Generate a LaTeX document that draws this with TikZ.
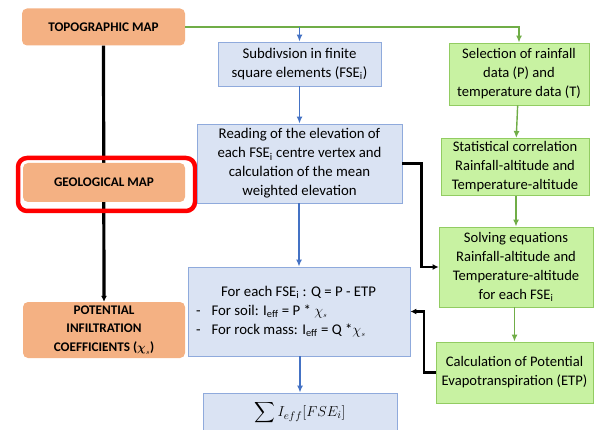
\documentclass[tikz,border=0pt]{standalone}
\usepackage{amsmath}
\usepackage{fontspec}
\setmainfont{Carlito}
\usetikzlibrary{%
		arrows.meta%
		,positioning%
	}
\definecolor{mapfill}{HTML}{F4B183}
\definecolor{stepfill}{HTML}{DAE3F3}
\definecolor{stepdraw}{HTML}{8FAADC}
\definecolor{climfill}{HTML}{C8F2A2}
\definecolor{climdraw}{HTML}{92CC62}
\definecolor{bluearrow}{HTML}{4472C4}
\definecolor{greenarrow}{HTML}{70AD47}
\newcommand{\fse}{FSE\textsubscript{i}}
\newcommand{\ieff}{I\textsubscript{eff}}
\tikzset{
	mapbox/.style={fill=mapfill, draw=none, rounded corners=5, align=center, font=\fontsize{13.2}{18.5}\selectfont\bfseries},
	stepbox/.style={fill=stepfill, draw=stepdraw, line width=0.8pt, align=center, font=\fontsize{14.8}{19}\selectfont},
	climbox/.style={fill=climfill, draw=climdraw, line width=0.8pt, align=center, font=\fontsize{14.6}{19}\selectfont},
	blueline/.style={draw=bluearrow, line width=1.4pt, -{Latex[length=7pt,width=6pt]}},
	greenline/.style={draw=greenarrow, line width=1.4pt, -{Latex[length=7pt,width=6pt]}},
	blackline/.style={draw=black, line width=2.2pt, -{Latex[length=6pt,width=6pt]}},
}
\begin{document}
\begin{tikzpicture}[x=1pt, y=-1pt]
	\useasboundingbox (0,0) rectangle (594,430);
	% maps on the left
	\node[mapbox, minimum width=163, minimum height=37] (topo) at (103.5,27) {TOPOGRAPHIC MAP};
	\node[mapbox, minimum width=162, minimum height=56] (pot) at (104,330) {POTENTIAL\\INFILTRATION\\COEFFICIENTS ($\boldsymbol{\chi}_{\scriptscriptstyle s}$)};
	\draw[blackline, line width=3.2pt] (topo.south) -- (pot.north);
	\node[mapbox, minimum width=162, minimum height=39] (geo) at (104,182.5) {GEOLOGICAL MAP};
	% red frame round the geological map
	\node[draw=red, line width=4.5pt, rounded corners=9, minimum width=177, minimum height=53] (frame) at (106.5,184.5) {};
	% blue column
	\node[stepbox, minimum width=163, minimum height=44] (sub) at (299.5,64) {Subdivsion in finite\\square elements (\fse)};
	\node[stepbox, minimum width=205, minimum height=79] (read) at (299.5,163.5) {Reading of the elevation of\\each \fse\ centre vertex and\\calculation of the mean\\weighted elevation};
	\node[stepbox, minimum width=222, minimum height=89, align=left, inner xsep=8pt] (each) at (299,311.5) {\makebox[206pt][l]{\hspace*{25pt}For each \fse\ : Q = P - ETP}\\-\hspace{11pt}For soil: \ieff\ = P * $\chi_{\scriptscriptstyle s}$\\-\hspace{11pt}For rock mass: \ieff\ = Q *$\chi_{\scriptscriptstyle s}$};
	\node[stepbox, minimum width=194, minimum height=40, inner ysep=1pt, font=\fontsize{15}{18}\selectfont] (sum) at (300,413) {$\displaystyle\sum I_{eff}[FSE_i]$};
	% green column
	\node[climbox, minimum width=140, minimum height=62] (sel) at (519,74) {Selection of rainfall\\data (P) and\\temperature data (T)};
	\node[climbox, minimum width=148, minimum height=50] (stat) at (515,167) {Statistical correlation\\Rainfall-altitude and\\Temperature-altitude};
	\node[climbox, minimum width=154, minimum height=80] (solve) at (516,267) {Solving equations\\Rainfall-altitude and\\Temperature-altitude\\for each \fse};
	\node[climbox, minimum width=157, minimum height=61] (calc) at (514.5,372.5) {Calculation of Potential\\Evapotranspiration (ETP)};
	% connectors
	\draw[greenline] (topo.east) -| (sel.north);
	\draw[blueline] (topo.east -| sub.north) -- (sub.north);
	\draw[blueline] (sub) -- (read);
	\draw[blueline] (read.south -| each.north) -- (each.north);
	\draw[blueline] (each.south -| sum.north) -- (sum.north);
	\draw[greenline] (sel) -- (stat);
	\draw[greenline] (stat.south -| solve.north) -- (solve.north);
	\draw[greenline] (solve.south -| calc.north) -- (calc.north);
	\draw[blackline] (read.east) -- ++(19,0) |- (solve.west);
	\draw[blackline] (calc.west) -- ++(-12,0) |- (each.east);
\end{tikzpicture}
\end{document}
